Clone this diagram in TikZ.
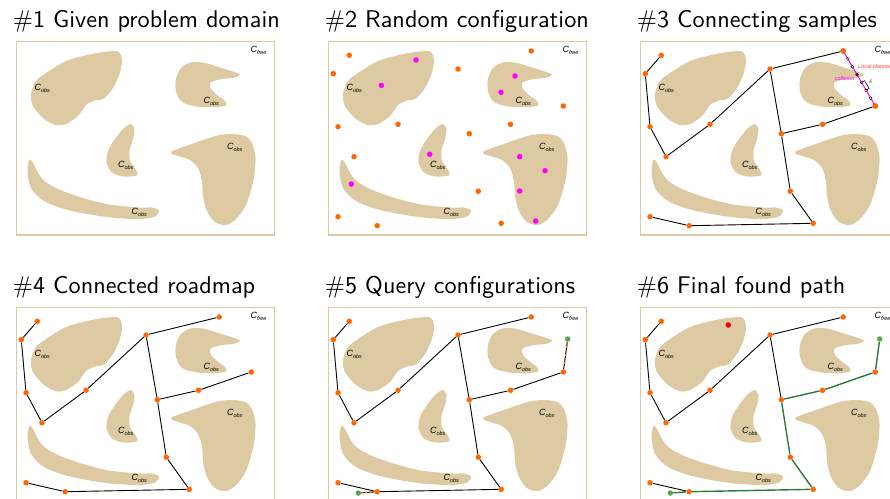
\documentclass[tikz,border=0pt]{standalone}
\usepackage{fontspec}
\newfontfamily\labelfont{Liberation Sans}
\newfontfamily\titlefont{lmsans10-regular.otf}
\usetikzlibrary{positioning, calc}

\definecolor{obstan}{RGB}{221,202,163}
\definecolor{sampleorange}{RGB}{255,102,0}
\definecolor{hitmagenta}{RGB}{255,0,255}
\definecolor{querygreen}{RGB}{88,168,72}
\definecolor{pathgreen}{RGB}{45,122,62}
\definecolor{plannerred}{RGB}{255,60,60}
\definecolor{hitred}{RGB}{240,0,0}

\newcommand{\confspace}[1]{{\labelfont\itshape\fontsize{9}{9}\selectfont C\kern-.2pt\raisebox{-2pt}{\fontsize{5.5}{5.5}\selectfont #1}}}

% the configuration space, same in every panel
\newcommand{\obstacles}[1]{
  \draw[domainframe] (16.5,41.5) rectangle (274.5,235);
  \fill[obs] plot[smooth cycle] coordinates {(118,51.5) (100,52.5) (83,56) (66,61) (49,71) (36,81) (31,94) (33,106) (43,118) (55,125) (66,124) (78,116) (86,105) (95,100.5) (104,98.5) (113,88) (119.5,74) (122,61)};
  \fill[obs] plot[smooth cycle] coordinates {(181,68) (192,62) (205,63) (220,67.5) (233,71.5) (240,74.5) (235,77.5) (219,79.5) (210,83) (211,89) (217,95) (225,101) (226,105.5) (215,107) (197,106.5) (182,102) (176,91) (176,79)};
  \fill[obs] plot[smooth cycle] coordinates {(131,124) (134.5,129) (133,139) (129.5,150) (130,161) (136,170) (137.5,175) (130,176.5) (120,176) (111,171.5) (106.5,162) (108,151) (115,139) (124,128)};
  \fill[obs] plot[smooth cycle] coordinates {(29.5,159.5) (33,163) (39,174.5) (45,181.5) (59,189.5) (83,198) (109,204.5) (139,207.5) (152,207.5) (159,210.5) (155,216.5) (140,219) (116,218) (93,215) (66,209.5) (44,201) (31,188) (27.5,171)};
  \fill[obs] plot[smooth cycle] coordinates {(171.5,151.5) (180,148) (192,144) (206,139) (220,135) (233,134) (245,136) (252,143) (255.5,158) (253.5,180) (246,205) (236,219) (226,225) (215,222) (207,211) (203,196) (202,181) (198,168) (190,160) (178,156) (172,154)};
  \node[cspace] (#1free) at (250.5,50) {\confspace{free}};
  \node[cspace] (#1obsA) at (34.5,88) {\confspace{obs}};
  \node[cspace] (#1obsB) at (203.5,101) {\confspace{obs}};
  \node[cspace] (#1obsC) at (118,165.5) {\confspace{obs}};
  \node[cspace] (#1obsD) at (131.5,212) {\confspace{obs}};
  \node[cspace] (#1obsE) at (227,147) {\confspace{obs}};
}

% collision free samples
\newcommand{\placesamples}[1]{
  \node[samplept] (#1a) at (37.3,55.3) {};
  \node[samplept] (#1b) at (21.3,73.7) {};
  \node[samplept] (#1c) at (26,126.7) {};
  \node[samplept] (#1d) at (42,156.7) {};
  \node[samplept] (#1e) at (86,124.3) {};
  \node[samplept] (#1f) at (146,69) {};
  \node[samplept] (#1g) at (219.2,51) {};
  \node[samplept] (#1h) at (251.3,106) {};
  \node[samplept] (#1i) at (198.5,124.3) {};
  \node[samplept] (#1j) at (157.3,133.7) {};
  \node[samplept] (#1k) at (166.3,191.2) {};
  \node[samplept] (#1l) at (189.2,223.3) {};
  \node[samplept] (#1m) at (26,216.7) {};
  \node[samplept] (#1n) at (65.2,225.7) {};
}

\newcommand{\roadmap}[1]{
  \draw[roadedge] (#1a) -- (#1b) -- (#1c) -- (#1d) -- (#1e) -- (#1f) -- (#1g);
  \draw[roadedge] (#1f) -- (#1j) -- (#1i) -- (#1h);
  \draw[roadedge] (#1j) -- (#1k) -- (#1l) -- (#1n) -- (#1m);
}

\begin{document}
\begin{tikzpicture}[
    x=1pt, y=-1pt,
    obs/.style={fill=obstan},
    domainframe/.style={draw=obstan, line width=1.2pt},
    paneltitle/.style={font=\titlefont\fontsize{24.2}{27}\selectfont, anchor=base west, inner sep=0},
    cspace/.style={anchor=west, inner sep=0},
    samplept/.style={circle, fill=sampleorange, minimum size=5.5pt, inner sep=0},
    collidept/.style={circle, fill=hitmagenta, minimum size=5.5pt, inner sep=0},
    querypt/.style={circle, fill=querygreen, minimum size=5.5pt, inner sep=0},
    roadedge/.style={draw=black, line width=0.9pt},
    queryedge/.style={draw=black, line width=1pt, postaction={draw=sampleorange, dash pattern=on 2pt off 2pt}},
    pathedge/.style={draw=pathgreen, line width=1.4pt},
    plannerline/.style={draw=hitmagenta, line width=1pt},
    check/.style={circle, draw=black, fill=white, minimum size=2.8pt, inner sep=0, line width=0.4pt},
    hitcheck/.style={check, fill=black!70},
    plannerlabel/.style={font=\labelfont\itshape\fontsize{5.5}{6}\selectfont, inner sep=0}
]
\useasboundingbox (0,0) rectangle (890,498);
\clip (0,0) rectangle (890,498);

% #1
\node[paneltitle] (t1) at (12.7,27.3) {\#1 Given problem domain};
\obstacles{p1}

% #2
\begin{scope}[shift={(312,0)}]
\node[paneltitle] (t2) at (12.7,27.3) {\#2 Random configuration};
\obstacles{p2}
\placesamples{p2}
\node[collidept] (p2c1) at (104,60) {};
\node[collidept] (p2c2) at (69.3,85.3) {};
\node[collidept] (p2c3) at (203,76) {};
\node[collidept] (p2c4) at (189,92.3) {};
\node[collidept] (p2c5) at (117.7,154.3) {};
\node[collidept] (p2c6) at (207.7,156.7) {};
\node[collidept] (p2c7) at (233,170.7) {};
\node[collidept] (p2c8) at (39.3,184) {};
\node[collidept] (p2c9) at (207.7,191) {};
\node[collidept] (p2c10) at (223.7,221) {};
\end{scope}

% #3
\begin{scope}[shift={(624,0)}]
\node[paneltitle] (t3) at (12.7,27.3) {\#3 Connecting samples};
\obstacles{p3}
\placesamples{p3}
\roadmap{p3}
\draw[plannerline] (p3g.center) -- (p3h.center);
\node[samplept] at (p3g) {};
\node[samplept] at (p3h) {};
\foreach \k/\t in {1/0.143, 2/0.286, 4/0.571, 5/0.714, 6/0.857}
  \node[check] (p3q\k) at ($(p3g)!\t!(p3h)$) {};
\node[hitcheck] (p3q3) at ($(p3g)!0.429!(p3h)$) {};
\draw[line width=0.5pt] (p3q4.center) -- ($(p3q4.center)!3.5pt!90:(p3q5.center)$) -- ($(p3q5.center)!3.5pt!-90:(p3q4.center)$) -- (p3q5.center);
\node[plannerlabel] (p3delta) at (246.5,82) {$\delta$};
\node[plannerlabel, text=plannerred, anchor=west] (p3planner) at (234,67) {Local planner};
\node[plannerlabel, text=hitmagenta, anchor=east] (p3collision) at (230.5,79) {collision};
\end{scope}

% #4
\begin{scope}[shift={(0,266)}]
\node[paneltitle] (t4) at (12.7,27.3) {\#4 Connected roadmap};
\obstacles{p4}
\placesamples{p4}
\roadmap{p4}
\end{scope}

% #5
\begin{scope}[shift={(312,266)}]
\node[paneltitle] (t5) at (12.7,27.3) {\#5 Query configurations};
\obstacles{p5}
\placesamples{p5}
\roadmap{p5}
\node[querypt] (p5s) at (46.3,227) {};
\node[querypt] (p5t) at (255.7,73) {};
\draw[queryedge] (p5s) -- (p5n);
\draw[queryedge] (p5t) -- (p5h);
\end{scope}

% #6
\begin{scope}[shift={(624,266)}]
\node[paneltitle] (t6) at (12.7,27.3) {\#6 Final found path};
\obstacles{p6}
\placesamples{p6}
\node[querypt] (p6s) at (46.3,227) {};
\node[querypt] (p6t) at (255.7,73) {};
\node[circle, fill=hitred, minimum size=5.5pt, inner sep=0] (p6hit) at (104.3,59) {};
\draw[roadedge] (p6a) -- (p6b) -- (p6c) -- (p6d) -- (p6e) -- (p6f) -- (p6g);
\draw[roadedge] (p6f) -- (p6j);
\draw[roadedge] (p6n) -- (p6m);
\draw[pathedge] (p6s) -- (p6n) -- (p6l) -- (p6k) -- (p6j) -- (p6i) -- (p6h) -- (p6t);
\end{scope}
\end{tikzpicture}
\end{document}
